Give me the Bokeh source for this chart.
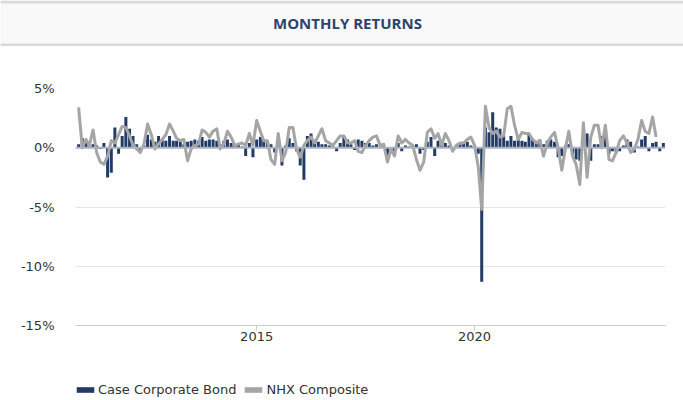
import pandas as pd
from bokeh.plotting import figure
from bokeh.layouts import column
from bokeh.models import (Range1d, FixedTicker, DatetimeTickFormatter, PrintfTickFormatter,
                          Span, Legend, LegendItem)
from bokeh.core.properties import value
from bokeh.embed import file_html
from bokeh.resources import INLINE

TITLE = "MONTHLY RETURNS"
SERIES_BOND = "Case Corporate Bond"
SERIES_COMP = "NHX Composite"

# monthly dates, Dec 2010 .. May 2024
months = pd.date_range("2010-12-01", periods=162, freq="MS")

bond = [0.3, 0.8, 0.6, 0.1, 0.3, 0.2, -0.1, 0.4, -2.5, -2.1,
        1.7, -0.5, 1.0, 2.6, 1.6, 1.0, 0.3, -0.3, 0.2, 1.1,
        0.7, 0.5, 1.0, 0.7, 0.6, 1.0, 0.6, 0.6, 0.5, 0.3,
        0.5, 0.6, 0.7, 0.6, 0.9, 0.6, 0.7, 0.7, 0.6, 0.3,
        0.6, 0.7, 0.4, 0.3, 0.4, 0.1, -0.7, 0.4, -0.8, 0.7,
        0.9, 0.7, 0.6, 0.3, -0.4, 0.6, -1.5, 0.2, 0.8, 0.4,
        -0.3, -1.5, -2.7, 1.0, 1.2, 0.6, 0.5, 0.3, 0.3, 0.2,
        0.1, -0.3, 0.4, 1.0, 0.7, 0.3, -0.2, 0.7, 0.6, 0.4,
        0.4, 0.2, 0.3, 0.1, 0.2, -0.7, -0.4, -0.3, 0.4, -0.3,
        0.2, 0.1, 0.2, 0.3, -0.5, -0.2, 0.5, 0.9, -0.7, 0.6,
        0.6, 0.4, 0.2, -0.2, 0.2, 0.3, 0.4, 0.5, 0.2, 0.1,
        -0.5, -11.3, 1.7, 1.3, 3.0, 1.7, 1.6, 1.0, 0.6, 1.0,
        0.6, 1.0, 0.6, 0.5, 1.1, 0.7, 0.6, 0.7, 0.3, 0.6,
        0.7, 0.5, -0.8, -0.7, 0.2, 0.3, -0.5, -1.0, -1.1, 0.6,
        1.2, -1.1, 0.3, 0.3, 1.0, 1.3, -0.5, -0.3, -0.4, -0.3,
        0.2, 0.7, 0.5, -0.4, 0.1, 0.7, 1.0, -0.3, 0.4, 0.5,
        -0.3, 0.4]

composite = [3.4, 0.0, 0.7, 0.2, 1.5, -0.4, -1.2, -1.4, -0.7, 0.6,
             0.4, 1.1, 1.8, 1.7, 1.0, 0.2, -0.1, -0.4, 0.3, 2.0,
             1.1, -0.1, 0.3, 0.7, 1.1, 2.0, 1.4, 0.8, 0.6, 0.7,
             -1.1, -0.1, 0.2, 0.3, 1.5, 1.3, 0.9, 1.4, 1.6, -0.1,
             0.3, 1.4, 0.9, 0.2, 0.3, 0.4, 0.2, 1.2, 0.2, 2.3,
             1.4, 0.6, 0.6, -1.0, -1.4, 1.2, -1.1, -0.4, 1.7, 1.7,
             -0.1, -0.8, 0.2, 0.6, 0.9, 0.4, 1.0, 1.6, 0.6, 0.4,
             0.2, 0.6, 1.0, 1.0, 0.4, 0.4, 0.6, -0.3, -0.4, 0.2,
             0.6, 0.9, 1.0, 0.2, 0.3, -1.2, -0.1, -0.7, 1.0, 0.4,
             0.7, 0.4, 0.2, -1.0, -1.9, -1.2, 1.3, 1.6, 0.8, 1.2,
             0.2, 1.2, 0.6, -0.3, 0.2, 0.4, 0.4, 0.7, 0.9, 0.2,
             -1.6, -5.2, 3.5, 1.7, 1.2, 1.4, 0.9, 1.0, 3.3, 3.5,
             1.9, 0.7, 1.3, 1.2, 1.2, 0.7, 0.4, 0.6, -0.7, 0.4,
             0.9, 1.3, 0.0, -1.9, 0.0, 1.4, -0.7, -1.4, -3.1, 2.1,
             -2.5, 0.9, 1.9, 1.9, 0.0, 1.9, -1.0, -1.1, -0.4, 0.6,
             1.0, 0.4, -0.4, -0.1, 0.7, 2.3, 1.4, 1.2, 2.6, 0.9]

y_ticks = [-15, -10, -5, 0, 5]
x_tick_years = ["2015-01-01", "2020-01-01"]

NAVY = "#213a66"
GRAY = "#a5a5a5"
TXT = "#333333"
FONT = "DejaVu Sans"

W = 683


def no_align(fig):
    try:
        fig.frame_align = False
    except Exception:
        pass


# ---------- header ----------
h = figure(width=W, height=46, x_range=Range1d(0, 1), y_range=Range1d(0, 46),
           x_axis_location=None, y_axis_location=None,
           toolbar_location=None, output_backend="svg", min_border=0)
no_align(h)
h.grid.visible = False
h.outline_line_color = None
h.background_fill_color = "#f9f9f9"
h.border_fill_color = "#f9f9f9"
h.add_layout(Span(location=44.5, dimension="width", line_color="#dadada", line_width=3))
h.add_layout(Span(location=1.5, dimension="width", line_color="#dadada", line_width=3))
h.text(x=[0.508], y=[23.5], text=[TITLE], text_align="center", text_baseline="middle",
       text_font=value("Open Sans"), text_font_size="15px", text_font_style="bold",
       text_color="#2c4470")

# ---------- main chart ----------
x0 = pd.Timestamp("2010-11-05")
x1 = pd.Timestamp("2024-05-19")
p = figure(width=W, height=304, x_axis_type="datetime",
           x_range=Range1d(x0, x1), y_range=Range1d(-15, 5),
           toolbar_location=None, output_backend="svg",
           min_border_left=75, min_border_right=18, min_border_top=42, min_border_bottom=25)
no_align(p)
p.outline_line_color = None
p.background_fill_color = "white"
p.xgrid.visible = False
p.ygrid.grid_line_color = "#e6e6e6"
p.ygrid.grid_line_width = 1

bar_w = pd.Timedelta(days=25)
r_bar = p.vbar(x=months, top=bond, bottom=0, width=bar_w, fill_color=NAVY, line_color=None)
p.add_layout(Span(location=0, dimension="width", line_color="#a9b1c0", line_width=2))
r_line = p.line(x=months[:len(composite)], y=composite, line_color=GRAY, line_width=3,
                line_join="round")

p.yaxis.ticker = FixedTicker(ticks=y_ticks)
p.yaxis.formatter = PrintfTickFormatter(format="%d%%")
p.yaxis.axis_line_color = None
p.yaxis.major_tick_line_color = None
p.yaxis.minor_tick_line_color = None
p.yaxis.major_label_standoff = 15
p.yaxis.major_label_text_font = FONT
p.yaxis.major_label_text_font_size = "13px"
p.yaxis.major_label_text_color = TXT

p.xaxis.ticker = FixedTicker(ticks=[pd.Timestamp(t).value // 10**6 for t in x_tick_years])
p.xaxis.formatter = DatetimeTickFormatter(years="%Y", months="%Y", days="%Y")
p.xaxis.axis_line_color = "#cccccc"
p.xaxis.major_tick_line_color = "#cccccc"
p.xaxis.major_tick_in = 0
p.xaxis.major_tick_out = 5
p.xaxis.minor_tick_line_color = None
p.xaxis.major_label_standoff = 1
p.xaxis.major_label_text_font = FONT
p.xaxis.major_label_text_font_size = "13px"
p.xaxis.major_label_text_color = TXT

# ---------- footer legend ----------
f = figure(width=W, height=48, x_range=Range1d(0, 1), y_range=Range1d(0, 1),
           x_axis_location=None, y_axis_location=None,
           toolbar_location=None, output_backend="svg", min_border=0)
no_align(f)
f.grid.visible = False
f.outline_line_color = None
f.background_fill_color = "white"
f.border_fill_color = "white"
# zero-height proxies so the legend has a swatch to draw for each series
d_bond = f.vbar(x=[0.5], top=[0], bottom=[0], width=0.0, fill_color=NAVY, line_color=None)
d_comp = f.vbar(x=[0.5], top=[0], bottom=[0], width=0.0, fill_color=GRAY, line_color=None)
legend = Legend(items=[LegendItem(label=SERIES_BOND, renderers=[d_bond]),
                       LegendItem(label=SERIES_COMP, renderers=[d_comp])],
                location=(74, 1), orientation="horizontal",
                glyph_width=22, glyph_height=7, label_height=14, label_standoff=2,
                spacing=6, padding=0, margin=0,
                label_text_font=FONT, label_text_font_size="13px",
                label_text_color=TXT, border_line_color=None,
                background_fill_alpha=0)
f.add_layout(legend)

layout = column(h, p, f)
open("out.html", "w").write(file_html(layout, INLINE))
